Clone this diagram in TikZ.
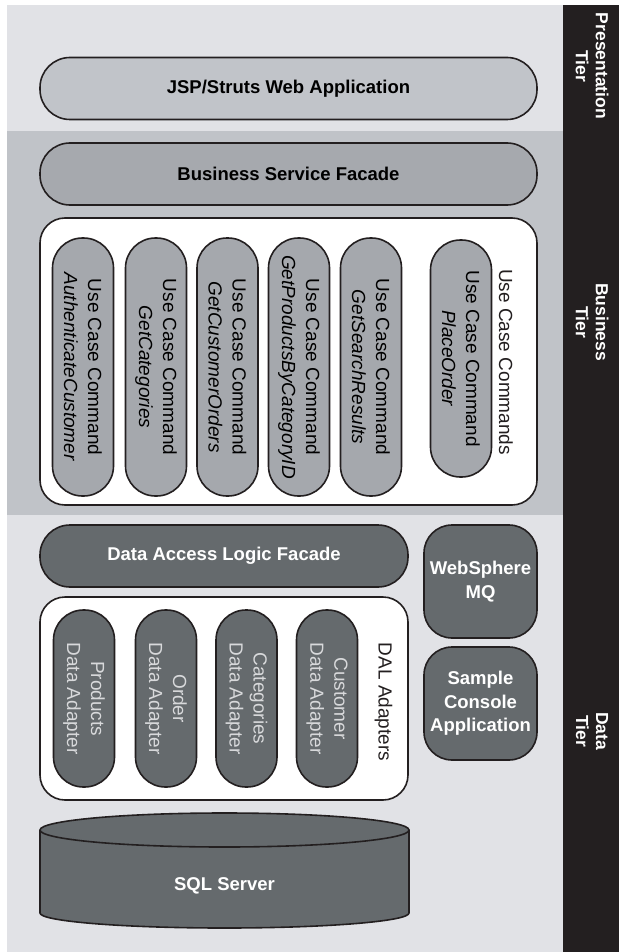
\documentclass[tikz,border=0pt]{standalone}
\usepackage{fontspec}
\setmainfont{Liberation Sans}
\definecolor{bglight}{HTML}{E1E2E6}
\definecolor{bgmid}{HTML}{C0C3C8}
\definecolor{jspfill}{HTML}{C1C4C9}
\definecolor{bsffill}{HTML}{A6A9AE}
\definecolor{ucfill}{HTML}{A5A8AD}
\definecolor{darkfill}{HTML}{656A6D}
\definecolor{barcol}{HTML}{231F20}
\definecolor{linecol}{HTML}{231F20}
\definecolor{adtext}{HTML}{D8D9DB}
\begin{document}
\begin{tikzpicture}[x=1pt,y=-1pt,
  outline/.style={draw=linecol, line width=1.6pt},
  hpill/.style={outline, rectangle, rounded corners=30pt, minimum height=62pt, inner sep=0pt,
    align=center, font=\bfseries\fontsize{18.5}{23}\selectfont},
  vpill/.style={outline, rectangle, rounded corners=30pt, minimum height=61pt, inner sep=0pt,
    align=center, font=\fontsize{19}{24}\selectfont, rotate=-90},
  container/.style={outline, fill=white, rectangle, rounded corners=25pt, inner sep=0pt},
  sqbox/.style={outline, fill=darkfill, rectangle, rounded corners=28pt, minimum width=113pt,
    minimum height=113pt, inner sep=0pt, align=center, text=white,
    font=\bfseries\fontsize{18.5}{23.5}\selectfont},
  tierlabel/.style={rotate=-90, align=center, text=white, inner sep=0pt,
    font=\bfseries\fontsize{17.5}{20}\selectfont},
  grouplabel/.style={rotate=-90, inner sep=0pt, text=linecol, font=\fontsize{19}{23}\selectfont}
]
\useasboundingbox (0,0) rectangle (619,952);
\fill[white] (0,0) rectangle (619,952);
% tier bands
\fill[bglight] (7,5) rectangle (563,131);
\fill[bgmid] (7,131) rectangle (563,515);
\fill[bglight] (7,515) rectangle (563,952);
\fill[barcol] (563,5) rectangle (619,952);
\node[tierlabel] (tpres) at (592,66) {Presentation\\Tier};
\node[tierlabel] (tbus) at (592,322) {Business\\Tier};
\node[tierlabel] (tdata) at (592,731) {Data\\Tier};
% presentation
\node[hpill, fill=jspfill, minimum width=497pt] (jsp) at (288.5,88.5) {JSP/Struts Web Application};
% business
\node[hpill, fill=bsffill, minimum width=497pt] (bsf) at (288.5,174) {Business Service Facade};
\node[container, minimum width=497pt, minimum height=287pt] (ucc) at (288.5,361.5) {};
\node[vpill, fill=ucfill, minimum width=258pt] (uc1) at (83,367) {Use Case Command\\\textit{AuthenticateCustomer}};
\node[vpill, fill=ucfill, minimum width=258pt] (uc2) at (156,367) {Use Case Command\\\textit{GetCategories}};
\node[vpill, fill=ucfill, minimum width=258pt] (uc3) at (227.5,367) {Use Case Command\\\textit{GetCustomerOrders}};
\node[vpill, fill=ucfill, minimum width=258pt] (uc4) at (299,367) {Use Case Command\\\textit{GetProductsByCategoryID}};
\node[vpill, fill=ucfill, minimum width=258pt] (uc5) at (371,367) {Use Case Command\\\textit{GetSearchResults}};
\node[vpill, fill=ucfill, minimum width=237pt] (uc6) at (461,358.5) {Use Case Command\\\textit{PlaceOrder}};
\node[grouplabel] (uclabel) at (506,362) {Use Case Commands};
% data
\node[hpill, fill=darkfill, text=white, minimum width=368pt] (dalf) at (224,556) {Data Access Logic Facade};
\node[sqbox] (mq) at (480.5,581.5) {WebSphere\\MQ};
\node[sqbox] (console) at (480.5,703.5) {Sample\\Console\\Application};
\node[container, minimum width=368pt, minimum height=203pt] (dalc) at (224,698.5) {};
\node[vpill, fill=darkfill, text=adtext, minimum width=177pt] (ad1) at (84,698.5) {Products\\Data Adapter};
\node[vpill, fill=darkfill, text=adtext, minimum width=177pt] (ad2) at (166,698.5) {Order\\Data Adapter};
\node[vpill, fill=darkfill, text=adtext, minimum width=177pt] (ad3) at (246.5,698.5) {Categories\\Data Adapter};
\node[vpill, fill=darkfill, text=adtext, minimum width=177pt] (ad4) at (327,698.5) {Customer\\Data Adapter};
\node[grouplabel] (dallabel) at (383.5,702) {DAL Adapters};
% SQL Server cylinder
\fill[darkfill] (40,830) rectangle (409,913);
\fill[darkfill] (224.5,913) ellipse [x radius=184.5, y radius=15];
\fill[darkfill] (224.5,830) ellipse [x radius=184.5, y radius=17];
\draw[linecol, line width=1.6pt] (224.5,830) ellipse [x radius=184.5, y radius=17];
\draw[linecol, line width=1.6pt] (40,830) -- (40,913)
  arc[start angle=180, end angle=0, x radius=184.5, y radius=15] -- (409,830);
\node[text=white, font=\bfseries\fontsize{18.5}{23}\selectfont, inner sep=0pt] (sql) at (224.5,886) {SQL Server};
\end{tikzpicture}
\end{document}
